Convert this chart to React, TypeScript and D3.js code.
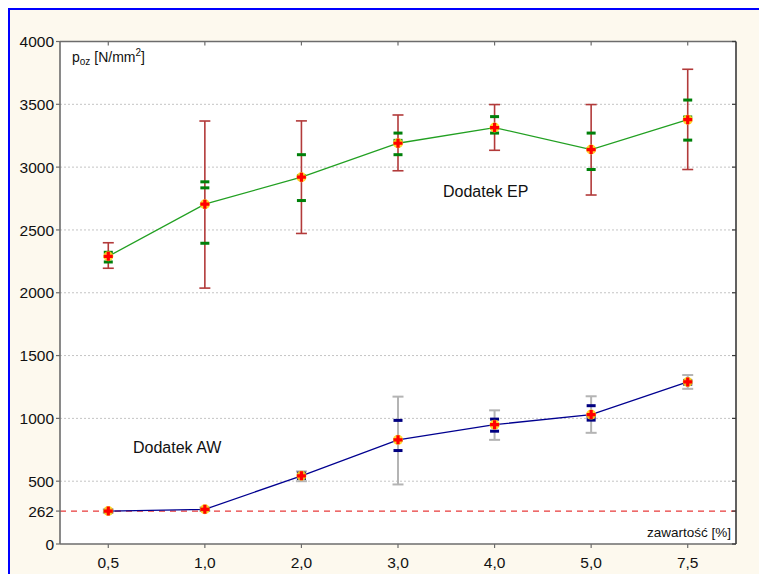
import React from "react";
import * as d3 from "d3";

const categories = ["0,5", "1,0", "2,0", "3,0", "4,0", "5,0", "7,5"];

// Dodatek EP
const epMean = [2290, 2705, 2920, 3190, 3315, 3140, 3378];
const epMin = [2195, 2037, 2472, 2971, 3134, 2778, 2981];
const epMax = [2398, 3367, 3368, 3415, 3498, 3498, 3779];
const epLow = [2245, 2394, 2734, 3099, 3271, 2981, 3215];
const epMid = [2290, 2835, 2931, 3213, 3310, 3146, 3399];
const epHigh = [2322, 2883, 3099, 3271, 3402, 3271, 3534];

// Dodatek AW
const awMean = [262, 276, 543, 829, 950, 1030, 1290];
const awMin = [250, 264, 500, 474, 829, 885, 1235];
const awMax = [275, 290, 578, 1173, 1064, 1176, 1345];
const awLow = [254, 268, 522, 744, 898, 986, 1272];
const awMid = [262, 276, 543, 829, 950, 1008, 1290];
const awHigh = [270, 284, 564, 984, 994, 1101, 1302];

const yTicks = [0, 262, 500, 1000, 1500, 2000, 2500, 3000, 3500, 4000];
const gridValues = [500, 1000, 1500, 2000, 2500, 3000, 3500];
const refValue = 262;

const W = 759;
const H = 574;
const L = 60, R = 736, T = 41.5, B = 544;
const FONT = "'Liberation Sans', Arial, sans-serif";

export default function App() {
  const x = d3.scalePoint<string>().domain(categories).range([L, R]).padding(0.5);
  const y = d3.scaleLinear().domain([0, 4000]).range([B, T]);

  const epLine = d3.line<number>().x((_, i) => x(categories[i])!).y((d) => y(d));
  const awLine = d3.line<number>().x((_, i) => x(categories[i])!).y((d) => y(d));

  const marker = (cx: number, cy: number, key: string) => (
    <g key={key}>
      <circle cx={cx} cy={cy} r={5} fill="#ffd21a" opacity={0.9} />
      <path d={`M${cx - 4.5},${cy}H${cx + 4.5}M${cx},${cy - 4.5}V${cy + 4.5}`} stroke="#ff0000" strokeWidth={3.2} />
    </g>
  );

  const dash = (cx: number, v: number, color: string, key: string) => (
    <rect key={key} x={cx - 4.5} y={y(v) - 1.5} width={9} height={3} fill={color} />
  );

  const whisker = (cx: number, lo: number, hi: number, color: string, w: number, key: string) => (
    <g key={key} stroke={color} strokeWidth={w} fill="none">
      <line x1={cx} x2={cx} y1={y(lo)} y2={y(hi)} />
      <line x1={cx - 5.5} x2={cx + 5.5} y1={y(lo)} y2={y(lo)} />
      <line x1={cx - 5.5} x2={cx + 5.5} y1={y(hi)} y2={y(hi)} />
    </g>
  );

  return (
    <svg width={W} height={H} style={{ position: "absolute", left: 0, top: 0, display: "block" }} fontFamily={FONT}>
      <rect x={0} y={0} width={W} height={H} fill="#ffffff" />
      <rect x={10} y={10} width={W - 10} height={H - 10} fill="#fdf9ee" />
      <line x1={9} x2={9} y1={8} y2={H} stroke="#0000ff" strokeWidth={2} />
      <line x1={8} x2={W} y1={9} y2={9} stroke="#0000ff" strokeWidth={2} />

      <rect x={L} y={T} width={R - L} height={B - T} fill="#ffffff" />

      {gridValues.map((v) => (
        <line key={"g" + v} x1={L} x2={R} y1={y(v)} y2={y(v)} stroke="#c4c4c4" strokeWidth={1} strokeDasharray="2,2" />
      ))}

      <line x1={L} x2={R} y1={y(refValue)} y2={y(refValue)} stroke="#e83a3a" strokeWidth={1.2} strokeDasharray="6,5" />

      {/* frame */}
      <line x1={L} x2={L} y1={T} y2={B} stroke="#6c6c6c" strokeWidth={1.6} />
      <line x1={L} x2={R} y1={B} y2={B} stroke="#6c6c6c" strokeWidth={1.6} />
      <line x1={L} x2={R} y1={T} y2={T} stroke="#6c6c6c" strokeWidth={1.6} />
      <line x1={R} x2={R} y1={T} y2={B} stroke="#3a3a3a" strokeWidth={1.6} />

      {/* ticks */}
      {yTicks.map((v) => (
        <g key={"yt" + v}>
          <line x1={L - 4} x2={L} y1={y(v)} y2={y(v)} stroke="#6c6c6c" strokeWidth={1.2} />
          <line x1={R - 4} x2={R} y1={y(v)} y2={y(v)} stroke="#3a3a3a" strokeWidth={1.2} />
          <text x={54} y={y(v)} dy="0.36em" textAnchor="end" fontSize={15.5} fill="#111">{v}</text>
        </g>
      ))}
      {categories.map((c) => (
        <g key={"xt" + c}>
          <line x1={x(c)!} x2={x(c)!} y1={B} y2={B + 4} stroke="#6c6c6c" strokeWidth={1.2} />
          <line x1={x(c)!} x2={x(c)!} y1={T} y2={T + 4} stroke="#6c6c6c" strokeWidth={1.2} />
          <text x={x(c)!} y={567.5} textAnchor="middle" fontSize={15.5} fill="#111">{c}</text>
        </g>
      ))}

      {/* EP series */}
      {categories.map((c, i) => whisker(x(c)!, epMin[i], epMax[i], "#b23a3a", 1.6, "ew" + i))}
      <path d={epLine(epMean)!} fill="none" stroke="#22a022" strokeWidth={1.3} />
      {categories.map((c, i) => (
        <g key={"ed" + i}>
          {dash(x(c)!, epLow[i], "#00800a", "a")}
          {dash(x(c)!, epMid[i], "#00800a", "b")}
          {dash(x(c)!, epHigh[i], "#00800a", "c")}
        </g>
      ))}
      {categories.map((c, i) => marker(x(c)!, y(epMean[i]), "em" + i))}

      {/* AW series */}
      {categories.map((c, i) => whisker(x(c)!, awMin[i], awMax[i], "#b4b4b4", 2, "aw" + i))}
      <path d={awLine(awMean)!} fill="none" stroke="#000090" strokeWidth={1.3} />
      {categories.map((c, i) => (
        <g key={"ad" + i}>
          {dash(x(c)!, awLow[i], "#000080", "a")}
          {dash(x(c)!, awMid[i], "#000080", "b")}
          {dash(x(c)!, awHigh[i], "#000080", "c")}
        </g>
      ))}
      {categories.map((c, i) => marker(x(c)!, y(awMean[i]), "am" + i))}

      {/* labels */}
      <text x={443} y={197} fontSize={16} fill="#111">Dodatek EP</text>
      <text x={133} y={453} fontSize={16} fill="#111">Dodatek AW</text>
      <text x={731} y={537} textAnchor="end" fontSize={13.5} fill="#111">zawartość [%]</text>
      <text x={72} y={62} fontSize={14} fill="#111">
        p<tspan fontSize={10} dy={3}>oz</tspan><tspan dy={-3}> [N/mm</tspan><tspan fontSize={10} dy={-6}>2</tspan><tspan dy={6}>]</tspan>
      </text>
    </svg>
  );
}
